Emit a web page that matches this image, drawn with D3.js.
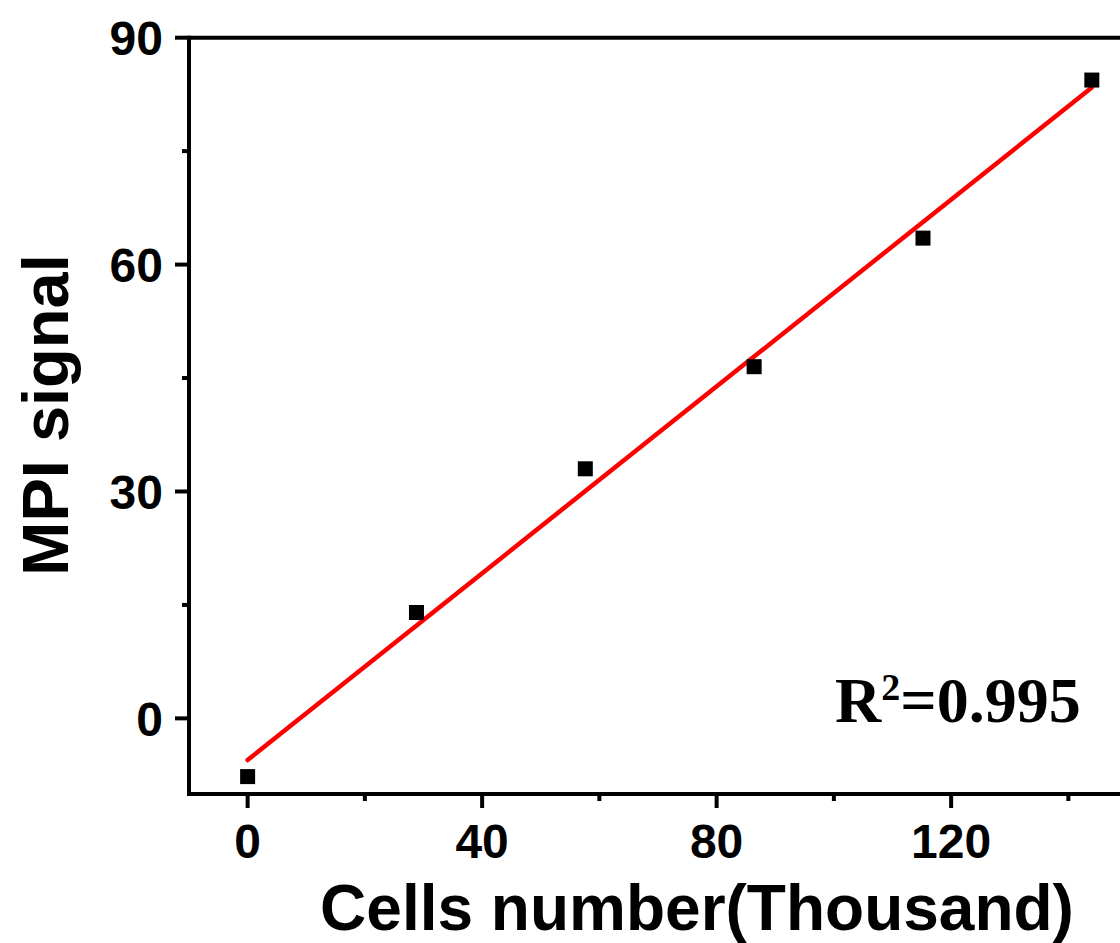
<!DOCTYPE html>
<html>
<head>
<meta charset="utf-8">
<script src="https://cdn.jsdelivr.net/npm/d3@7"></script>
<style>
  html, body { margin: 0; padding: 0; background: #fff; overflow: hidden; }
  svg { display: block; }
</style>
</head>
<body>
<svg id="chart" width="1120" height="943"></svg>
<script>
// Measured cell counts (thousand) and MPI signal
const cellsThousand = [0, 28.8, 57.6, 86.4, 115.2, 144];
const mpiSignal = [-7.7, 14.0, 33.0, 46.5, 63.5, 84.4];

const xMajorTicks = [0, 40, 80, 120];
const xMinorTicks = [20, 60, 100, 140];
const yMajorTicks = [0, 30, 60, 90];
const yMinorTicks = [15, 45, 75];

const xTitle = "Cells number(Thousand)";
const yTitle = "MPI signal";
const r2Label = "0.995";

const svg = d3.select("#chart");

const x = d3.scaleLinear().domain([-10, 150]).range([189, 1127]);
const y = d3.scaleLinear().domain([-10, 90]).range([794, 37.7]);

// Least-squares fit through the measured points
const n = cellsThousand.length;
const mx = d3.mean(cellsThousand), my = d3.mean(mpiSignal);
let sxy = 0, sxx = 0;
for (let i = 0; i < n; i++) {
  sxy += (cellsThousand[i] - mx) * (mpiSignal[i] - my);
  sxx += (cellsThousand[i] - mx) ** 2;
}
const slope = sxy / sxx, intercept = my - slope * mx;
const fitX = [d3.min(cellsThousand), d3.max(cellsThousand)];

const tickFont = "'Liberation Sans', Arial, sans-serif";
const tickSize = 48;

// Frame: top and right edges
svg.append("path")
  .attr("d", `M${x(-10)},${y(90)}H${x(150)}V${y(-10)}`)
  .attr("fill", "none").attr("stroke", "#000").attr("stroke-width", 4);

// Bottom axis
const xAxis = svg.append("g").attr("transform", `translate(0,${y(-10)})`);
xAxis.append("line").attr("x1", x(-10) - 2).attr("x2", x(150))
  .attr("stroke", "#000").attr("stroke-width", 4);
xAxis.selectAll(".maj").data(xMajorTicks).join("line")
  .attr("x1", d => x(d)).attr("x2", d => x(d)).attr("y1", 0).attr("y2", 14)
  .attr("stroke", "#000").attr("stroke-width", 4);
xAxis.selectAll(".min").data(xMinorTicks).join("line")
  .attr("x1", d => x(d)).attr("x2", d => x(d)).attr("y1", 0).attr("y2", 7)
  .attr("stroke", "#000").attr("stroke-width", 4);
xAxis.selectAll("text").data(xMajorTicks).join("text")
  .attr("x", d => x(d)).attr("y", 64)
  .attr("text-anchor", "middle")
  .attr("font-family", tickFont).attr("font-weight", "bold").attr("font-size", tickSize)
  .text(d => d);

// Left axis
const yAxis = svg.append("g").attr("transform", `translate(${x(-10)},0)`);
yAxis.append("line").attr("y1", y(90) - 2).attr("y2", y(-10) + 2)
  .attr("stroke", "#000").attr("stroke-width", 4);
yAxis.selectAll(".maj").data(yMajorTicks).join("line")
  .attr("y1", d => y(d)).attr("y2", d => y(d)).attr("x1", 0).attr("x2", -14)
  .attr("stroke", "#000").attr("stroke-width", 4);
yAxis.selectAll(".min").data(yMinorTicks).join("line")
  .attr("y1", d => y(d)).attr("y2", d => y(d)).attr("x1", 0).attr("x2", -7)
  .attr("stroke", "#000").attr("stroke-width", 4);
yAxis.selectAll("text").data(yMajorTicks).join("text")
  .attr("x", -26).attr("y", d => y(d)).attr("dy", "0.36em")
  .attr("text-anchor", "end")
  .attr("font-family", tickFont).attr("font-weight", "bold").attr("font-size", tickSize)
  .text(d => d);

// Fitted line
svg.append("line")
  .attr("x1", x(fitX[0])).attr("y1", y(intercept + slope * fitX[0]))
  .attr("x2", x(fitX[1])).attr("y2", y(intercept + slope * fitX[1]))
  .attr("stroke", "#f00").attr("stroke-width", 4.5).attr("stroke-linecap", "round");

// Data markers
const s = 15;
svg.selectAll(".pt").data(cellsThousand.map((c, i) => [c, mpiSignal[i]])).join("rect")
  .attr("x", d => x(d[0]) - s / 2).attr("y", d => y(d[1]) - s / 2)
  .attr("width", s).attr("height", s).attr("fill", "#000");

// Axis titles
svg.append("text")
  .attr("x", 697).attr("y", 930)
  .attr("text-anchor", "middle")
  .attr("font-family", tickFont).attr("font-weight", "bold").attr("font-size", 64)
  .text(xTitle);
svg.append("text")
  .attr("transform", "translate(68,415) rotate(-90)")
  .attr("text-anchor", "middle")
  .attr("font-family", tickFont).attr("font-weight", "bold").attr("font-size", 65)
  .text(yTitle);

// Goodness-of-fit annotation
const r2 = svg.append("text")
  .attr("x", 835).attr("y", 722)
  .attr("font-family", "'Liberation Serif', 'Times New Roman', serif")
  .attr("font-weight", "bold").attr("font-size", 64);
r2.append("tspan").text("R");
r2.append("tspan").attr("font-size", 38).attr("dy", -22).text("2");
r2.append("tspan").attr("dy", 22).text("=" + r2Label);
</script>
</body>
</html>
